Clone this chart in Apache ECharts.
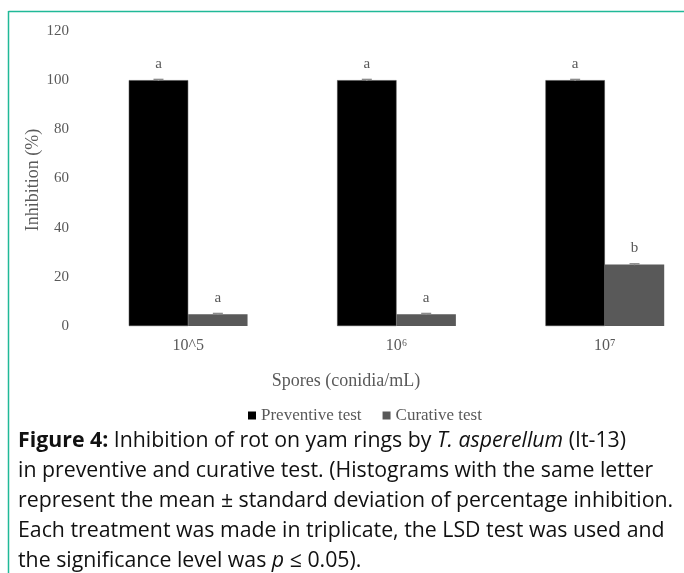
<!DOCTYPE html>
<html>
<head>
<meta charset="utf-8">
<script src="https://cdn.jsdelivr.net/npm/echarts@6/dist/echarts.min.js"></script>
<style>
  html, body { margin: 0; padding: 0; background: #fff; overflow: hidden; }
  /* the plot area runs past the right edge of the picture, so the canvas is wider than the window */
  #chart { width: 720px; height: 573px; }
</style>
</head>
<body>
<div id="chart"></div>
<script>
const categories = ["10^5", "10\u2076", "10\u2077"];
const preventive = [100, 100, 100];
const curative = [4.8, 4.8, 25];
const preventiveErr = [0.3, 0.3, 0.3];
const curativeErr = [0.3, 0.3, 0.3];
const preventiveLetters = ["a", "a", "a"];
const curativeLetters = ["a", "a", "b"];
const yTicks = { min: 0, max: 120, interval: 20 };

const serif = "'Liberation Serif', 'DejaVu Serif', serif";
const textGray = "#595959";
const capFont = "'Open Sans'";
const capSize = 21.3;

const chart = echarts.init(document.getElementById("chart"));

function errorBars(values, errs, side) {
  return {
    type: "custom",
    silent: true,
    z: 5,
    data: values.map((v, i) => [i, v, errs[i]]),
    renderItem(params, api) {
      const band = api.size([1, 0])[0];
      const offset = side * band * 0.1425;
      const lo = api.coord([api.value(0), api.value(1) - api.value(2)]);
      const hi = api.coord([api.value(0), api.value(1) + api.value(2)]);
      const x = lo[0] + offset;
      const style = { stroke: "#8c8c8c", lineWidth: 1.5 };
      return {
        type: "group",
        children: [
          { type: "line", shape: { x1: x, y1: lo[1], x2: x, y2: hi[1] }, style },
          { type: "line", shape: { x1: x - 5, y1: hi[1], x2: x + 5, y2: hi[1] }, style },
        ],
      };
    },
  };
}

chart.setOption({
  backgroundColor: "#fff",
  animation: false,
  grid: { left: 84, top: 31, width: 625, height: 295 },
  legend: {
    left: 243,
    top: 402,
    icon: "rect",
    itemWidth: 8,
    itemHeight: 8,
    itemGap: 21,
    itemStyle: { borderWidth: 0 },
    data: ["Preventive test", "Curative test"],
    textStyle: { fontFamily: serif, fontSize: 17, color: textGray },
  },
  xAxis: {
    type: "category",
    data: categories,
    axisLine: { show: false },
    axisTick: { show: false },
    axisLabel: { fontFamily: serif, fontSize: 16, color: textGray, margin: 12 },
  },
  yAxis: {
    type: "value",
    min: yTicks.min,
    max: yTicks.max,
    interval: yTicks.interval,
    splitLine: { show: false },
    axisLine: { show: false },
    axisTick: { show: false },
    axisLabel: { fontFamily: serif, fontSize: 15, color: textGray, margin: 15 },
  },
  series: [
    {
      name: "Preventive test",
      type: "bar",
      data: preventive,
      barGap: "0%",
      barCategoryGap: "43%",
      itemStyle: { color: "#000", borderColor: "#404040", borderWidth: 0.5 },
      label: {
        show: true,
        position: "top",
        distance: 9,
        fontFamily: serif,
        fontSize: 15,
        color: textGray,
        formatter: (p) => preventiveLetters[p.dataIndex],
      },
    },
    {
      name: "Curative test",
      type: "bar",
      data: curative,
      itemStyle: { color: "#595959" },
      label: {
        show: true,
        position: "top",
        distance: 9,
        fontFamily: serif,
        fontSize: 15,
        color: textGray,
        formatter: (p) => curativeLetters[p.dataIndex],
      },
    },
    errorBars(preventive, preventiveErr, -1),
    errorBars(curative, curativeErr, 1),
  ],
  graphic: [
    {
      type: "text",
      x: 33,
      y: 180,
      rotation: Math.PI / 2,
      style: {
        text: "Inhibition (%)",
        font: "18px " + serif,
        fill: textGray,
        align: "center",
        verticalAlign: "middle",
      },
    },
    {
      type: "text",
      x: 346,
      y: 381,
      style: {
        text: "Spores (conidia/mL)",
        font: "18px " + serif,
        fill: textGray,
        align: "center",
        verticalAlign: "middle",
      },
    },
    {
      type: "line",
      shape: { x1: 8.5, y1: 11.5, x2: 720, y2: 11.5 },
      style: { stroke: "#20b998", lineWidth: 1.5 },
    },
    {
      type: "line",
      shape: { x1: 8.5, y1: 11, x2: 8.5, y2: 573 },
      style: { stroke: "#20b998", lineWidth: 1.5 },
    },
    {
      type: "text",
      x: 18,
      y: 426,
      style: {
        text:
          "{b|Figure 4:} Inhibition of rot on yam rings by {i|T. asperellum} (It-13)\n" +
          "in preventive and curative test. (Histograms with the same letter\n" +
          "represent the mean \u00b1 standard deviation of percentage inhibition.\n" +
          "Each treatment was made in triplicate, the LSD test was used and\n" +
          "the significance level was {i|p} \u2264 0.05).",
        font: capSize + "px " + capFont,
        fill: "#111",
        lineHeight: 30,
        rich: {
          b: { fontFamily: capFont, fontSize: capSize, fontWeight: "bold", fill: "#111", lineHeight: 30 },
          i: { fontFamily: capFont, fontSize: capSize, fontStyle: "italic", fill: "#111", lineHeight: 30 },
        },
      },
    },
  ],
});
</script>
</body>
</html>
